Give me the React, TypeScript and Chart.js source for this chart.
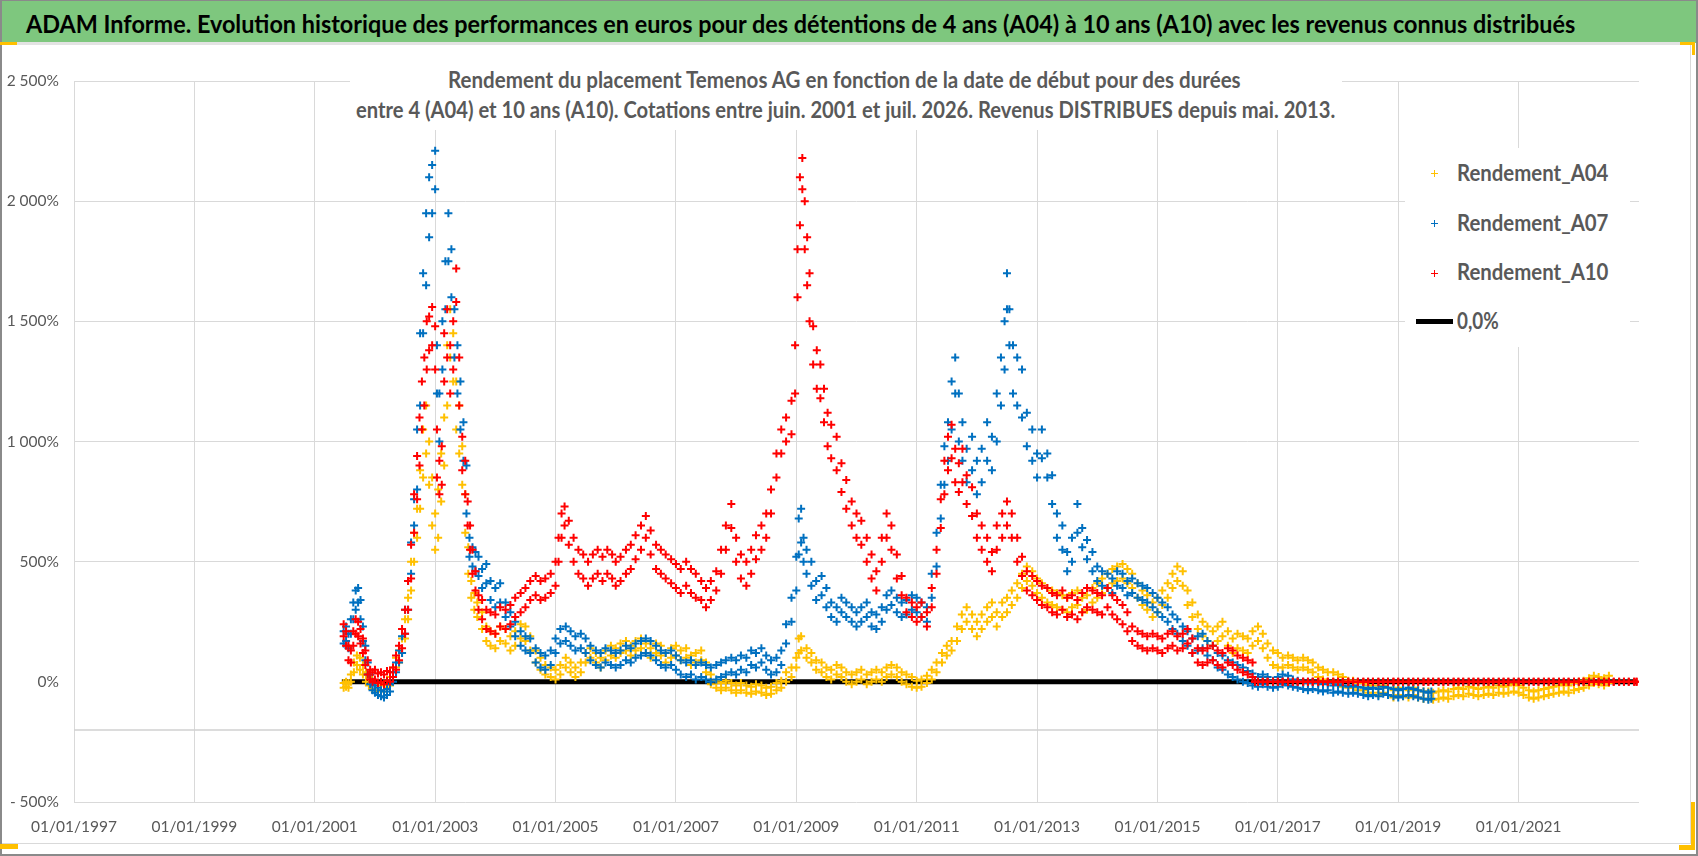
import React, { useEffect, useLayoutEffect, useRef, useState } from "react";
import { Chart, registerables } from "chart.js";

Chart.register(...registerables);

const headerText =
  "ADAM Informe. Evolution historique des performances en euros pour des détentions de 4 ans (A04) à 10 ans (A10) avec les revenus connus distribués";
const titleLines = [
  "Rendement du placement Temenos AG en fonction de la date de début pour des durées",
  "entre 4 (A04) et 10 ans (A10). Cotations entre juin. 2001 et juil. 2026. Revenus DISTRIBUES depuis mai. 2013.",
];
const seriesNames = ["Rendement_A04", "Rendement_A07", "Rendement_A10", "0,0%"];
const seriesColors = ["#FFC000", "#0070C0", "#FF0000", "#000000"];

const xTickYears = [1997, 1999, 2001, 2003, 2005, 2007, 2009, 2011, 2013, 2015, 2017, 2019, 2021];

// [start date as decimal year, low edge of the cloud %, high edge of the cloud %]
const rendementA04: [number, number, number][] = [
  [2001.48, -25, -5], [2001.52, -20, 0], [2001.56, -25, -5], [2001.6, 0, 30], [2001.65, 40, 80], [2001.7, 70, 110],
  [2001.75, 50, 100], [2001.8, 30, 70], [2001.85, 0, 40], [2001.9, -15, 20], [2001.95, -30, 0], [2002.0, -35, -10],
  [2002.05, -40, -15], [2002.1, -35, -5], [2002.15, -40, -15], [2002.2, -25, 5], [2002.25, -15, 20], [2002.3, 20, 60],
  [2002.35, 60, 100], [2002.4, 80, 130], [2002.45, 120, 180], [2002.5, 180, 260], [2002.55, 260, 350],
  [2002.6, 380, 500], [2002.65, 500, 620], [2002.7, 600, 720], [2002.75, 720, 880], [2002.8, 850, 1050],
  [2002.85, 950, 1150], [2002.9, 820, 1000], [2002.95, 650, 850], [2003.0, 550, 700], [2003.05, 600, 800],
  [2003.1, 750, 950], [2003.15, 900, 1100], [2003.2, 1150, 1400], [2003.25, 1350, 1550], [2003.3, 1250, 1450],
  [2003.35, 1050, 1250], [2003.4, 950, 1150], [2003.45, 820, 980], [2003.5, 620, 780], [2003.55, 450, 560],
  [2003.6, 350, 420], [2003.65, 300, 370], [2003.7, 270, 330], [2003.78, 220, 290], [2003.85, 170, 230],
  [2003.92, 150, 210], [2004.0, 140, 200], [2004.08, 170, 230], [2004.17, 160, 220], [2004.25, 130, 190],
  [2004.33, 150, 210], [2004.42, 180, 240], [2004.5, 170, 230], [2004.58, 130, 190], [2004.67, 80, 130],
  [2004.75, 50, 100], [2004.83, 30, 70], [2004.92, 20, 60], [2005.0, 10, 50], [2005.08, 30, 70], [2005.17, 60, 100],
  [2005.25, 40, 80], [2005.33, 20, 60], [2005.42, 40, 80], [2005.5, 80, 120], [2005.58, 100, 140], [2005.67, 80, 120],
  [2005.75, 60, 100], [2005.83, 90, 130], [2005.92, 110, 150], [2006.0, 100, 140], [2006.08, 120, 160],
  [2006.17, 130, 170], [2006.25, 110, 150], [2006.33, 130, 170], [2006.42, 140, 180], [2006.5, 120, 160],
  [2006.58, 100, 140], [2006.67, 120, 160], [2006.75, 110, 150], [2006.83, 80, 120], [2006.92, 100, 140],
  [2007.0, 110, 150], [2007.08, 90, 130], [2007.17, 100, 140], [2007.25, 70, 110], [2007.33, 80, 120],
  [2007.42, 90, 130], [2007.5, 40, 80], [2007.58, -10, 30], [2007.67, -25, 5], [2007.75, -35, -5], [2007.83, -25, 5],
  [2007.92, -35, -5], [2008.0, -45, -15], [2008.08, -35, -5], [2008.17, -45, -15], [2008.25, -50, -20],
  [2008.33, -40, -10], [2008.42, -45, -15], [2008.5, -55, -25], [2008.58, -50, -20], [2008.67, -35, -5],
  [2008.75, -25, 5], [2008.83, 0, 40], [2008.92, 20, 60], [2009.0, 60, 100], [2009.04, 120, 180], [2009.08, 130, 190],
  [2009.17, 100, 140], [2009.25, 80, 120], [2009.33, 50, 90], [2009.42, 40, 80], [2009.5, 20, 60], [2009.58, 10, 50],
  [2009.67, 30, 70], [2009.75, 20, 60], [2009.83, 0, 40], [2009.92, -10, 30], [2010.0, 0, 40], [2010.08, 10, 50],
  [2010.17, -10, 30], [2010.25, 0, 40], [2010.33, 10, 50], [2010.42, 0, 40], [2010.5, 20, 60], [2010.58, 30, 70],
  [2010.67, 20, 60], [2010.75, 0, 40], [2010.83, -10, 30], [2010.92, -20, 20], [2011.0, -25, 5], [2011.08, -20, 10],
  [2011.17, -5, 25], [2011.25, 10, 50], [2011.33, 40, 80], [2011.42, 80, 120], [2011.5, 110, 150], [2011.58, 130, 170],
  [2011.67, 170, 230], [2011.75, 220, 280], [2011.83, 250, 310], [2011.92, 220, 280], [2012.0, 190, 250],
  [2012.08, 220, 280], [2012.17, 250, 310], [2012.25, 270, 330], [2012.33, 230, 290], [2012.42, 270, 330],
  [2012.5, 290, 350], [2012.58, 320, 380], [2012.67, 350, 410], [2012.75, 390, 450], [2012.83, 420, 480],
  [2012.92, 400, 460], [2013.0, 370, 430], [2013.08, 350, 410], [2013.17, 330, 390], [2013.25, 320, 380],
  [2013.33, 310, 370], [2013.42, 300, 360], [2013.5, 290, 350], [2013.58, 310, 370], [2013.67, 320, 380],
  [2013.75, 290, 350], [2013.83, 300, 360], [2013.92, 330, 390], [2014.0, 350, 410], [2014.08, 370, 430],
  [2014.17, 390, 450], [2014.25, 410, 470], [2014.33, 420, 480], [2014.42, 430, 490], [2014.5, 410, 470],
  [2014.58, 390, 450], [2014.67, 350, 410], [2014.75, 320, 380], [2014.83, 300, 360], [2014.92, 270, 330],
  [2015.0, 290, 350], [2015.08, 320, 380], [2015.17, 350, 410], [2015.25, 390, 450], [2015.33, 420, 480],
  [2015.42, 400, 460], [2015.5, 320, 380], [2015.58, 270, 330], [2015.67, 220, 280], [2015.75, 190, 250],
  [2015.83, 170, 230], [2015.92, 150, 210], [2016.0, 170, 230], [2016.08, 190, 250], [2016.17, 150, 210],
  [2016.25, 120, 180], [2016.33, 140, 200], [2016.42, 130, 190], [2016.5, 120, 180], [2016.58, 150, 210],
  [2016.67, 170, 230], [2016.75, 140, 200], [2016.83, 100, 160], [2016.92, 70, 130], [2017.0, 60, 120],
  [2017.08, 60, 100], [2017.17, 70, 110], [2017.25, 60, 100], [2017.33, 50, 90], [2017.42, 60, 100], [2017.5, 50, 90],
  [2017.58, 40, 80], [2017.67, 20, 60], [2017.75, 10, 50], [2017.83, 0, 40], [2017.92, 0, 40], [2018.0, -10, 30],
  [2018.08, -20, 20], [2018.17, -25, 5], [2018.25, -25, 5], [2018.33, -35, -5], [2018.42, -35, -5], [2018.5, -45, -15],
  [2018.58, -45, -15], [2018.67, -55, -25], [2018.75, -45, -15], [2018.83, -55, -25], [2018.92, -65, -35],
  [2019.0, -55, -25], [2019.08, -60, -30], [2019.17, -65, -35], [2019.25, -55, -25], [2019.33, -65, -35],
  [2019.42, -70, -40], [2019.5, -70, -40], [2019.58, -75, -45], [2019.67, -70, -40], [2019.75, -65, -35],
  [2019.83, -70, -40], [2019.92, -60, -30], [2020.0, -55, -25], [2020.08, -60, -30], [2020.17, -50, -20],
  [2020.25, -55, -25], [2020.33, -60, -30], [2020.42, -55, -25], [2020.5, -50, -20], [2020.58, -55, -25],
  [2020.67, -45, -15], [2020.75, -50, -20], [2020.83, -45, -15], [2020.92, -40, -10], [2021.0, -45, -15],
  [2021.08, -55, -25], [2021.17, -65, -35], [2021.25, -70, -40], [2021.33, -65, -35], [2021.42, -60, -30],
  [2021.5, -55, -25], [2021.58, -50, -20], [2021.67, -45, -15], [2021.75, -40, -10], [2021.83, -45, -15],
  [2021.92, -35, -5], [2022.0, -30, 0], [2022.08, -25, 5], [2022.17, -15, 15], [2022.25, -5, 25], [2022.33, -10, 20],
  [2022.42, -15, 15], [2022.5, -5, 25],
];

const rendementA07: [number, number, number][] = [
  [2001.48, 160, 210], [2001.52, 170, 230], [2001.56, 140, 200], [2001.6, 200, 260], [2001.64, 260, 330],
  [2001.68, 300, 380], [2001.72, 330, 390], [2001.76, 260, 340], [2001.8, 170, 230], [2001.84, 90, 150],
  [2001.88, 30, 80], [2001.92, -10, 30], [2001.96, -35, 0], [2002.0, -45, -15], [2002.05, -55, -25],
  [2002.1, -60, -35], [2002.15, -65, -40], [2002.2, -55, -30], [2002.25, -40, -10], [2002.3, 0, 40], [2002.35, 40, 80],
  [2002.4, 80, 130], [2002.45, 120, 190], [2002.5, 200, 300], [2002.55, 300, 420], [2002.6, 450, 580],
  [2002.65, 650, 760], [2002.7, 800, 1050], [2002.75, 1150, 1450], [2002.8, 1450, 1700], [2002.85, 1650, 1950],
  [2002.9, 1850, 2100], [2002.95, 1950, 2150], [2003.0, 2050, 2210], [2003.03, 1200, 1400], [2003.07, 1000, 1200],
  [2003.12, 1300, 1500], [2003.17, 1550, 1750], [2003.22, 1750, 1950], [2003.27, 1600, 1800], [2003.32, 1350, 1550],
  [2003.37, 1200, 1400], [2003.42, 1050, 1250], [2003.47, 920, 1080], [2003.52, 700, 900], [2003.57, 520, 600],
  [2003.62, 480, 560], [2003.67, 460, 540], [2003.72, 440, 520], [2003.78, 390, 470], [2003.85, 410, 490],
  [2003.92, 340, 420], [2004.0, 310, 390], [2004.08, 330, 410], [2004.17, 270, 330], [2004.25, 230, 290],
  [2004.33, 190, 250], [2004.42, 150, 210], [2004.5, 130, 190], [2004.58, 120, 180], [2004.67, 80, 140],
  [2004.75, 60, 120], [2004.83, 50, 110], [2004.92, 70, 130], [2005.0, 120, 180], [2005.08, 160, 220],
  [2005.17, 170, 230], [2005.25, 150, 210], [2005.33, 130, 190], [2005.42, 140, 200], [2005.5, 120, 180],
  [2005.58, 90, 150], [2005.67, 70, 130], [2005.75, 60, 120], [2005.83, 80, 140], [2005.92, 70, 130], [2006.0, 60, 120],
  [2006.08, 70, 130], [2006.17, 90, 150], [2006.25, 80, 140], [2006.33, 100, 160], [2006.42, 110, 170],
  [2006.5, 120, 180], [2006.58, 110, 170], [2006.67, 90, 150], [2006.75, 70, 130], [2006.83, 60, 120],
  [2006.92, 70, 130], [2007.0, 50, 110], [2007.08, 30, 90], [2007.17, 20, 80], [2007.25, 30, 90], [2007.33, 10, 70],
  [2007.42, 20, 80], [2007.5, 10, 70], [2007.58, 0, 60], [2007.67, 10, 70], [2007.75, 20, 80], [2007.83, 30, 90],
  [2007.92, 40, 100], [2008.0, 30, 90], [2008.08, 50, 110], [2008.17, 40, 100], [2008.25, 70, 130], [2008.33, 60, 120],
  [2008.42, 80, 140], [2008.5, 50, 110], [2008.58, 30, 90], [2008.67, 40, 100], [2008.75, 70, 130],
  [2008.83, 160, 240], [2008.92, 250, 350], [2009.0, 380, 520], [2009.04, 530, 680], [2009.08, 580, 720],
  [2009.12, 500, 600], [2009.17, 450, 550], [2009.25, 400, 500], [2009.33, 340, 420], [2009.42, 360, 440],
  [2009.5, 310, 390], [2009.58, 270, 330], [2009.67, 250, 310], [2009.75, 290, 350], [2009.83, 270, 330],
  [2009.92, 250, 310], [2010.0, 230, 290], [2010.08, 250, 310], [2010.17, 270, 330], [2010.25, 230, 290],
  [2010.33, 220, 280], [2010.42, 250, 310], [2010.5, 300, 360], [2010.58, 320, 380], [2010.67, 290, 350],
  [2010.75, 270, 330], [2010.83, 280, 340], [2010.92, 300, 360], [2011.0, 290, 350], [2011.08, 270, 330],
  [2011.17, 250, 310], [2011.25, 350, 450], [2011.33, 480, 620], [2011.4, 680, 820], [2011.46, 820, 980],
  [2011.52, 920, 1080], [2011.58, 1050, 1250], [2011.64, 1200, 1350], [2011.7, 1000, 1200], [2011.76, 920, 1080],
  [2011.83, 830, 970], [2011.92, 880, 1020], [2012.0, 780, 920], [2012.08, 830, 970], [2012.17, 920, 1080],
  [2012.25, 880, 1020], [2012.33, 1000, 1200], [2012.4, 1150, 1350], [2012.46, 1300, 1500], [2012.5, 1550, 1700],
  [2012.54, 1400, 1550], [2012.6, 1200, 1400], [2012.67, 1150, 1350], [2012.75, 1100, 1300], [2012.83, 980, 1120],
  [2012.92, 920, 1050], [2013.0, 850, 950], [2013.08, 930, 1050], [2013.17, 850, 950], [2013.25, 740, 860],
  [2013.33, 600, 700], [2013.42, 550, 650], [2013.5, 460, 540], [2013.58, 500, 600], [2013.67, 620, 740],
  [2013.75, 560, 640], [2013.83, 510, 590], [2013.92, 460, 540], [2014.0, 420, 480], [2014.08, 400, 460],
  [2014.17, 390, 450], [2014.25, 370, 430], [2014.33, 400, 460], [2014.42, 390, 450], [2014.5, 360, 420],
  [2014.58, 370, 430], [2014.67, 350, 410], [2014.75, 340, 400], [2014.83, 330, 390], [2014.92, 310, 370],
  [2015.0, 290, 350], [2015.08, 270, 330], [2015.17, 250, 310], [2015.25, 220, 280], [2015.33, 200, 260],
  [2015.42, 170, 230], [2015.5, 150, 210], [2015.58, 120, 180], [2015.67, 130, 190], [2015.75, 140, 200],
  [2015.83, 110, 170], [2015.92, 90, 150], [2016.0, 60, 120], [2016.08, 50, 110], [2016.17, 30, 90], [2016.25, 20, 80],
  [2016.33, 10, 70], [2016.42, 0, 60], [2016.5, -5, 45], [2016.58, -15, 35], [2016.67, -20, 20], [2016.75, -10, 30],
  [2016.83, -20, 20], [2016.92, -25, 5], [2017.0, -20, 20], [2017.08, -10, 30], [2017.17, -15, 25], [2017.25, -20, 10],
  [2017.33, -25, 5], [2017.42, -30, 0], [2017.5, -35, -5], [2017.58, -30, 0], [2017.67, -35, -5], [2017.75, -40, -10],
  [2017.83, -35, -5], [2017.92, -45, -15], [2018.0, -40, -10], [2018.08, -45, -15], [2018.17, -50, -20],
  [2018.25, -45, -15], [2018.33, -50, -20], [2018.42, -55, -25], [2018.5, -60, -30], [2018.58, -55, -25],
  [2018.67, -60, -30], [2018.75, -50, -20], [2018.83, -55, -25], [2018.92, -60, -30], [2019.0, -65, -35],
  [2019.08, -60, -30], [2019.17, -55, -25], [2019.25, -60, -30], [2019.33, -65, -35], [2019.42, -70, -40],
  [2019.5, -75, -45], [2019.55, -70, -40],
];

const rendementA10: [number, number, number][] = [
  [2001.48, 190, 240], [2001.52, 150, 210], [2001.56, 90, 150], [2001.6, 80, 130], [2001.64, 150, 210],
  [2001.68, 200, 260], [2001.72, 190, 250], [2001.76, 160, 220], [2001.8, 120, 180], [2001.84, 70, 130],
  [2001.88, 30, 90], [2001.92, 10, 50], [2001.96, 0, 40], [2002.0, 10, 50], [2002.05, -5, 35], [2002.1, 0, 40],
  [2002.15, -10, 30], [2002.2, 5, 45], [2002.25, 0, 40], [2002.3, 20, 60], [2002.35, 50, 110], [2002.4, 90, 150],
  [2002.45, 140, 220], [2002.5, 200, 300], [2002.55, 300, 420], [2002.6, 430, 570], [2002.65, 620, 780],
  [2002.7, 760, 940], [2002.74, 900, 1100], [2002.78, 1050, 1250], [2002.82, 1150, 1350], [2002.86, 1300, 1500],
  [2002.9, 1380, 1520], [2002.95, 1400, 1560], [2003.0, 1300, 1480], [2003.03, 850, 1050], [2003.07, 780, 920],
  [2003.11, 820, 980], [2003.15, 1250, 1450], [2003.2, 1350, 1550], [2003.25, 1200, 1400], [2003.3, 1300, 1500],
  [2003.35, 1580, 1720], [2003.4, 1150, 1350], [2003.45, 880, 1020], [2003.5, 780, 920], [2003.54, 650, 750],
  [2003.58, 550, 650], [2003.62, 450, 550], [2003.67, 380, 460], [2003.72, 300, 360], [2003.78, 260, 340],
  [2003.85, 220, 300], [2003.92, 210, 290], [2004.0, 200, 280], [2004.08, 230, 310], [2004.17, 220, 300],
  [2004.25, 240, 320], [2004.33, 270, 350], [2004.42, 290, 370], [2004.5, 310, 390], [2004.58, 340, 420],
  [2004.67, 360, 440], [2004.75, 340, 420], [2004.83, 350, 430], [2004.92, 370, 450], [2005.0, 400, 500],
  [2005.05, 500, 600], [2005.1, 600, 700], [2005.15, 650, 730], [2005.22, 570, 670], [2005.3, 500, 600],
  [2005.38, 450, 550], [2005.46, 430, 530], [2005.54, 400, 500], [2005.62, 430, 530], [2005.7, 450, 550],
  [2005.78, 420, 520], [2005.86, 450, 550], [2005.94, 430, 530], [2006.0, 400, 500], [2006.08, 420, 520],
  [2006.17, 450, 550], [2006.25, 470, 570], [2006.33, 510, 610], [2006.42, 550, 650], [2006.5, 600, 690],
  [2006.58, 530, 630], [2006.67, 470, 570], [2006.75, 450, 550], [2006.83, 430, 530], [2006.92, 410, 510],
  [2007.0, 390, 490], [2007.08, 370, 470], [2007.17, 400, 500], [2007.25, 370, 470], [2007.33, 350, 450],
  [2007.42, 340, 420], [2007.5, 310, 390], [2007.58, 340, 420], [2007.67, 380, 460], [2007.75, 450, 550],
  [2007.83, 550, 650], [2007.92, 640, 740], [2008.0, 500, 600], [2008.08, 430, 530], [2008.17, 400, 500],
  [2008.25, 450, 550], [2008.33, 510, 610], [2008.42, 550, 650], [2008.5, 600, 700], [2008.58, 700, 800],
  [2008.67, 850, 950], [2008.75, 950, 1050], [2008.83, 1000, 1100], [2008.92, 1030, 1170], [2008.98, 1200, 1400],
  [2009.02, 1600, 1800], [2009.06, 1900, 2100], [2009.1, 2050, 2180], [2009.14, 1800, 2000], [2009.18, 1650, 1850],
  [2009.22, 1500, 1700], [2009.28, 1320, 1480], [2009.34, 1220, 1380], [2009.4, 1180, 1320], [2009.46, 1080, 1220],
  [2009.52, 980, 1120], [2009.58, 930, 1070], [2009.67, 880, 1020], [2009.75, 790, 910], [2009.83, 720, 840],
  [2009.92, 650, 750], [2010.0, 600, 700], [2010.08, 570, 670], [2010.17, 500, 600], [2010.25, 430, 530],
  [2010.33, 380, 460], [2010.42, 500, 600], [2010.5, 600, 700], [2010.58, 550, 650], [2010.67, 430, 530],
  [2010.75, 360, 440], [2010.83, 290, 350], [2010.92, 270, 330], [2011.0, 250, 310], [2011.08, 270, 330],
  [2011.17, 230, 290], [2011.25, 310, 390], [2011.33, 450, 550], [2011.4, 640, 760], [2011.46, 780, 920],
  [2011.52, 880, 1020], [2011.58, 930, 1070], [2011.64, 830, 970], [2011.7, 790, 910], [2011.76, 830, 970],
  [2011.83, 740, 860], [2011.92, 690, 810], [2012.0, 600, 700], [2012.08, 550, 650], [2012.17, 500, 600],
  [2012.25, 460, 540], [2012.33, 550, 650], [2012.42, 600, 700], [2012.5, 650, 750], [2012.58, 600, 700],
  [2012.67, 500, 600], [2012.75, 440, 520], [2012.83, 380, 460], [2012.92, 360, 440], [2013.0, 340, 420],
  [2013.08, 320, 400], [2013.17, 310, 390], [2013.25, 290, 370], [2013.33, 280, 360], [2013.42, 300, 380],
  [2013.5, 270, 350], [2013.58, 280, 360], [2013.67, 260, 340], [2013.75, 290, 370], [2013.83, 310, 390],
  [2013.92, 300, 380], [2014.0, 290, 370], [2014.08, 280, 360], [2014.17, 310, 390], [2014.25, 280, 360],
  [2014.33, 260, 340], [2014.42, 240, 320], [2014.5, 210, 290], [2014.58, 170, 230], [2014.67, 150, 210],
  [2014.75, 140, 200], [2014.83, 130, 190], [2014.92, 140, 200], [2015.0, 130, 190], [2015.08, 120, 180],
  [2015.17, 140, 200], [2015.25, 150, 210], [2015.33, 130, 190], [2015.42, 140, 200], [2015.5, 160, 220],
  [2015.58, 120, 180], [2015.67, 80, 140], [2015.75, 70, 130], [2015.83, 80, 140], [2015.92, 90, 150],
  [2016.0, 70, 130], [2016.08, 60, 120], [2016.17, 80, 140], [2016.25, 70, 130], [2016.33, 50, 110],
  [2016.42, 40, 100], [2016.5, 30, 90], [2016.58, 20, 80],
  [2016.62, 0, 0], [2016.67, 0, 0], [2016.75, 0, 0], [2016.83, 0, 0], [2016.92, 0, 0],
  [2017.0, 0, 0], [2017.08, 0, 0], [2017.17, 0, 0], [2017.25, 0, 0], [2017.33, 0, 0], [2017.42, 0, 0],
  [2017.5, 0, 0], [2017.58, 0, 0], [2017.67, 0, 0], [2017.75, 0, 0], [2017.83, 0, 0], [2017.92, 0, 0],
  [2018.0, 0, 0], [2018.08, 0, 0], [2018.17, 0, 0], [2018.25, 0, 0], [2018.33, 0, 0], [2018.42, 0, 0],
  [2018.5, 0, 0], [2018.58, 0, 0], [2018.67, 0, 0], [2018.75, 0, 0], [2018.83, 0, 0], [2018.92, 0, 0],
  [2019.0, 0, 0], [2019.08, 0, 0], [2019.17, 0, 0], [2019.25, 0, 0], [2019.33, 0, 0], [2019.42, 0, 0],
  [2019.5, 0, 0], [2019.58, 0, 0], [2019.67, 0, 0], [2019.75, 0, 0], [2019.83, 0, 0], [2019.92, 0, 0],
  [2020.0, 0, 0], [2020.08, 0, 0], [2020.17, 0, 0], [2020.25, 0, 0], [2020.33, 0, 0], [2020.42, 0, 0],
  [2020.5, 0, 0], [2020.58, 0, 0], [2020.67, 0, 0], [2020.75, 0, 0], [2020.83, 0, 0], [2020.92, 0, 0],
  [2021.0, 0, 0], [2021.08, 0, 0], [2021.17, 0, 0], [2021.25, 0, 0], [2021.33, 0, 0], [2021.42, 0, 0],
  [2021.5, 0, 0], [2021.58, 0, 0], [2021.67, 0, 0], [2021.75, 0, 0], [2021.83, 0, 0], [2021.92, 0, 0],
  [2022.0, 0, 0], [2022.08, 0, 0], [2022.17, 0, 0], [2022.25, 0, 0], [2022.33, 0, 0], [2022.42, 0, 0],
  [2022.5, 0, 0], [2022.58, 0, 0], [2022.67, 0, 0], [2022.75, 0, 0], [2022.83, 0, 0], [2022.92, 0, 0], [2022.96, 0, 0],
];

const zeroLine: [number, number][] = [[2001.45, 0], [2022.97, 0]];
const crossingLine: [number, number][] = [[1997, -200], [2023, -200]];

const textFont = "Lato, 'Noto Sans', sans-serif";

const fmtPct = (v: number) => {
  const a = Math.abs(v).toString().replace(/\B(?=(\d{3})+(?!\d))/g, " ");
  return v < 0 ? `- ${a}%` : `${a}%`;
};

const cloudPoints = (arr: [number, number, number][]) =>
  arr.flatMap(([x, lo, hi]) => [{ x, y: lo }, { x, y: hi }]);
const linePoints = (arr: [number, number][]) => arr.map(([x, y]) => ({ x, y }));

const FitText = ({ text, width, style }: { text: string; width: number; style: React.CSSProperties }) => {
  const ref = useRef<HTMLSpanElement>(null);
  const [scale, setScale] = useState(1);
  useLayoutEffect(() => {
    if (ref.current && ref.current.offsetWidth) setScale(width / ref.current.offsetWidth);
  }, [text, width]);
  return (
    <span
      ref={ref}
      style={{
        position: "absolute",
        whiteSpace: "nowrap",
        lineHeight: 1,
        transform: `scaleX(${scale})`,
        transformOrigin: "left top",
        ...style,
      }}
    >
      {text}
    </span>
  );
};

const Plus = ({ color, left, top }: { color: string; left: number; top: number }) => (
  <div style={{ position: "absolute", left: left - 3, top: top - 3, width: 7, height: 7 }}>
    <div style={{ position: "absolute", left: 0, top: 3, width: 7, height: 1.3, background: color }} />
    <div style={{ position: "absolute", left: 3, top: 0, width: 1.3, height: 7, background: color }} />
  </div>
);

const ScatterChart = () => {
  const canvasRef = useRef<HTMLCanvasElement>(null);
  const chartRef = useRef<Chart | null>(null);

  useEffect(() => {
    if (!canvasRef.current) return;
    chartRef.current?.destroy();

    const markerSet = (label: string, color: string, data: [number, number, number][], order: number) => ({
      label,
      data: cloudPoints(data),
      order,
      showLine: false,
      pointStyle: "cross" as const,
      pointRadius: 4,
      pointBorderWidth: 2,
      borderColor: color,
      backgroundColor: color,
    });

    chartRef.current = new Chart(canvasRef.current, {
      type: "scatter",
      data: {
        datasets: [
          markerSet(seriesNames[0], seriesColors[0], rendementA04, 3),
          markerSet(seriesNames[1], seriesColors[1], rendementA07, 2),
          markerSet(seriesNames[2], seriesColors[2], rendementA10, 1),
          {
            label: seriesNames[3],
            data: linePoints(zeroLine),
            order: 4,
            showLine: true,
            pointRadius: 0,
            borderColor: seriesColors[3],
            borderWidth: 5,
          },
          {
            label: "axis",
            data: linePoints(crossingLine),
            order: 5,
            showLine: true,
            pointRadius: 0,
            borderColor: "#D0D0D0",
            borderWidth: 1.5,
          },
        ],
      },
      options: {
        responsive: false,
        animation: false,
        events: [],
        layout: { padding: { left: 0, top: 81, right: 59, bottom: 14 } },
        plugins: {
          legend: { display: false },
          tooltip: { enabled: false },
        },
        scales: {
          x: {
            type: "linear",
            min: 1997,
            max: 2023,
            afterBuildTicks: (scale: any) => {
              scale.ticks = xTickYears.map((v) => ({ value: v }));
            },
            afterFit: (scale: any) => {
              scale.height = 40;
            },
            ticks: {
              autoSkip: false,
              maxRotation: 0,
              padding: 16,
              color: "#595959",
              font: { family: textFont, size: 15.5 },
              callback: (v: any) => `01/01/${v}`,
            },
            grid: { color: "#D9D9D9", lineWidth: 1, drawTicks: false },
            border: { display: false },
          },
          y: {
            min: -500,
            max: 2500,
            afterFit: (scale: any) => {
              scale.width = 74;
            },
            ticks: {
              stepSize: 500,
              padding: 15,
              color: "#595959",
              font: { family: textFont, size: 15.5 },
              callback: (v: any) => fmtPct(Number(v)),
            },
            grid: {
              color: (ctx: any) => (ctx.tick && ctx.tick.value === 0 ? "rgba(0,0,0,0)" : "#D9D9D9"),
              lineWidth: 1,
              drawTicks: false,
            },
            border: { display: false },
          },
        },
      },
    });

    return () => chartRef.current?.destroy();
  }, []);

  return (
    <canvas
      ref={canvasRef}
      width={1698}
      height={856}
      style={{ position: "absolute", left: 0, top: 0, width: 1698, height: 856 }}
    />
  );
};

const legendRows = [
  { text: seriesNames[0], color: seriesColors[0], y: 173, width: 151 },
  { text: seriesNames[1], color: seriesColors[1], y: 223, width: 151 },
  { text: seriesNames[2], color: seriesColors[2], y: 272.5, width: 151 },
  { text: seriesNames[3], color: seriesColors[3], y: 321.5, width: 42 },
];

const handle = "#FFC000";

export default function App() {
  return (
    <div
      style={{
        position: "fixed",
        left: 0,
        top: 0,
        width: 1698,
        height: 856,
        background: "#FFFFFF",
        overflow: "hidden",
        fontFamily: textFont,
      }}
    >
      {/* header */}
      <div style={{ position: "absolute", left: 0, top: 0, width: 1696, height: 42, background: "#7EC77E", borderTop: "1px solid #8A8A8A" }} />
      <div style={{ position: "absolute", left: 0, top: 42, width: 1692, height: 3, background: "#E3E3E3" }} />
      <FitText text={headerText} width={1549} style={{ left: 26, top: 11, fontSize: 25, fontWeight: 700, color: "#000" }} />

      {/* chart frame */}
      <div style={{ position: "absolute", left: 0, top: 45, width: 1690, height: 798, borderRight: "1px solid #D9D9D9", borderBottom: "1px solid #D9D9D9" }} />
      <div style={{ position: "absolute", left: 0, top: 0, width: 1.5, height: 856, background: "#8A8A8A" }} />
      <div style={{ position: "absolute", left: 0, top: 854, width: 1698, height: 2, background: "#8A8A8A" }} />
      <div style={{ position: "absolute", left: 1696, top: 0, width: 2, height: 856, background: "#8A8A8A" }} />

      <ScatterChart />

      {/* chart title */}
      <div style={{ position: "absolute", left: 350, top: 48, width: 992, height: 82, background: "#FFFFFF" }} />
      <FitText text={titleLines[0]} width={793} style={{ left: 448, top: 68, fontSize: 23, fontWeight: 700, color: "#595959" }} />
      <FitText text={titleLines[1]} width={979} style={{ left: 356, top: 98, fontSize: 23, fontWeight: 700, color: "#595959" }} />

      {/* legend */}
      <div style={{ position: "absolute", left: 1405, top: 148, width: 225, height: 199, background: "#FFFFFF" }} />
      {legendRows.map((r, i) =>
        i < 3 ? (
          <Plus key={"m" + i} color={r.color} left={1434} top={r.y} />
        ) : (
          <div key={"m" + i} style={{ position: "absolute", left: 1416, top: r.y - 2.5, width: 37, height: 5, background: r.color }} />
        )
      )}
      {legendRows.map((r, i) => (
        <FitText key={"t" + i} text={r.text} width={r.width} style={{ left: 1457, top: r.y - 11.5, fontSize: 22, fontWeight: 700, color: "#595959" }} />
      ))}

      {/* selection handles */}
      <div style={{ position: "absolute", left: 0, top: 42, width: 17, height: 3, background: handle }} />
      <div style={{ position: "absolute", left: 1680, top: 42, width: 15, height: 3, background: handle }} />
      <div style={{ position: "absolute", left: 1692, top: 42, width: 3, height: 13, background: handle }} />
      <div style={{ position: "absolute", left: 0, top: 844, width: 18, height: 5, background: handle }} />
      <div style={{ position: "absolute", left: 1691, top: 802, width: 4, height: 48, background: handle }} />
      <div style={{ position: "absolute", left: 1679, top: 845, width: 16, height: 5, background: handle }} />
    </div>
  );
}
